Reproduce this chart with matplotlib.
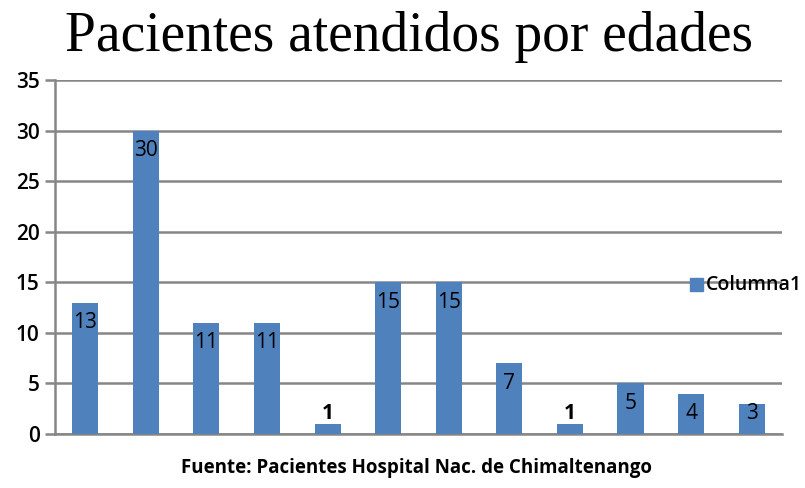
import matplotlib.pyplot as plt
import numpy as np

# pacientes por grupo de edad
valores = [13, 30, 11, 11, 1, 15, 15, 7, 1, 5, 4, 3]
ticks_y = [0, 5, 10, 15, 20, 25, 30, 35]

azul = '#4F81BD'
gris = '#868686'

fig = plt.figure(figsize=(8.05, 4.88), dpi=100)
ax = fig.add_axes([0.0683, 0.1107, 0.9031, 0.7253])

x = np.arange(len(valores))
ax.bar(x, valores, width=0.43, color=azul, zorder=3)

# etiquetas de valor dentro del extremo de la barra
for xi, v in zip(x, valores):
    peso = 'bold' if v <= 1 else 'normal'
    ax.text(xi, max(v - 2, 2), str(v), ha='center', va='center',
            fontsize=15, family='Open Sans', fontweight=peso, zorder=4)

ax.set_xlim(-0.5, len(valores) - 0.5)
ax.set_ylim(0, 35)
ax.set_yticks(ticks_y)
ax.set_xticks([])
ax.yaxis.grid(True, color=gris, lw=1.8, zorder=0)
ax.tick_params(axis='y', length=7, width=1.8, color=gris, pad=4,
               labelsize=15)
for lbl in ax.get_yticklabels():
    lbl.set_family('Open Sans')
    lbl.set_fontweight('semibold')
for s in ['top', 'right']:
    ax.spines[s].set_visible(False)
for s in ['left', 'bottom']:
    ax.spines[s].set_color(gris)
    ax.spines[s].set_linewidth(1.8)

fig.text(0.508, 0.925, 'Pacientes atendidos por edades', ha='center',
         va='center', family='Liberation Serif', fontsize=40)

# leyenda
fig.patches.append(plt.Rectangle((0.857, 0.403), 0.0165, 0.027,
                                 color=azul, transform=fig.transFigure))
fig.text(0.877, 0.416, 'Columna1', ha='left', va='center',
         family='Open Sans', fontweight='semibold', fontsize=14)

fig.text(0.518, 0.04, 'Fuente: Pacientes Hospital Nac. de Chimaltenango',
         ha='center', va='center', family='Open Sans', fontweight='bold',
         fontsize=13.5)

fig.savefig('out.png', dpi=100)
